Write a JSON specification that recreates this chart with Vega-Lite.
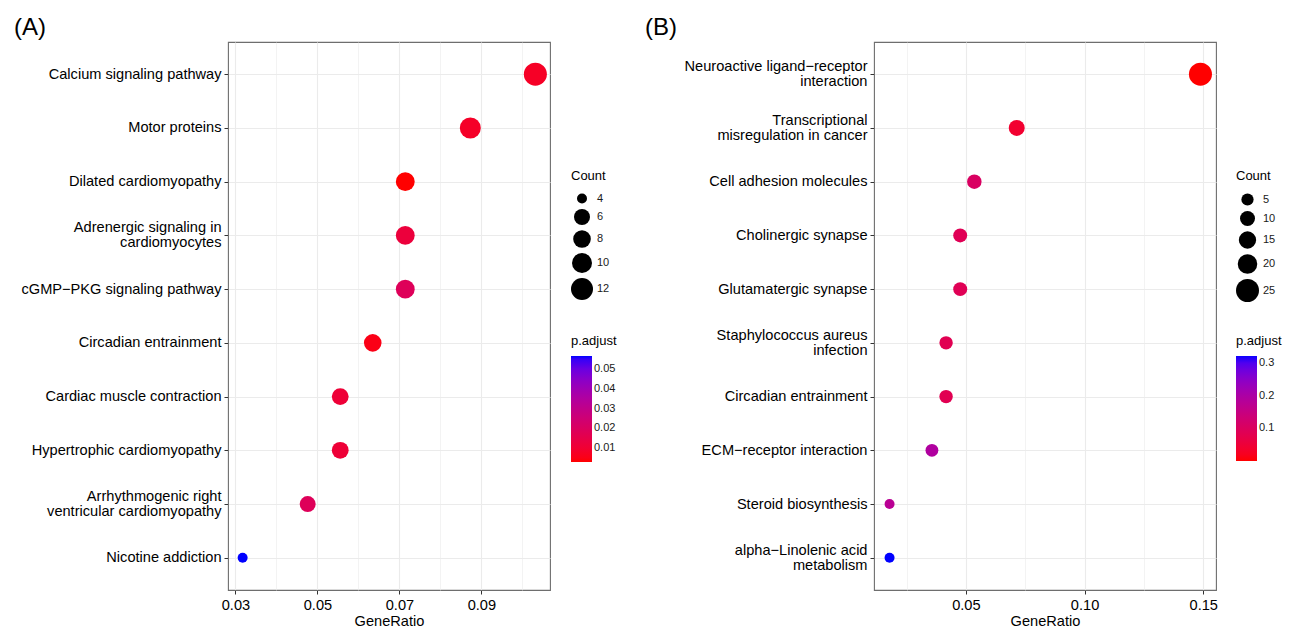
{
  "$schema": "https://vega.github.io/schema/vega-lite/v6.json",
  "background": "white",
  "padding": {"left": 5, "top": 15, "right": 5, "bottom": 5},
  "datasets": {
    "A": [
      {"term": "Calcium signaling pathway", "GeneRatio": 0.10317, "Count": 13, "padj": 0.0075},
      {"term": "Motor proteins", "GeneRatio": 0.08730, "Count": 11, "padj": 0.0080},
      {"term": "Dilated cardiomyopathy", "GeneRatio": 0.07143, "Count": 9, "padj": 0.0029},
      {"term": "Adrenergic signaling in\ncardiomyocytes", "GeneRatio": 0.07143, "Count": 9, "padj": 0.0120},
      {"term": "cGMP−PKG signaling pathway", "GeneRatio": 0.07143, "Count": 9, "padj": 0.0185},
      {"term": "Circadian entrainment", "GeneRatio": 0.06349, "Count": 8, "padj": 0.0050},
      {"term": "Cardiac muscle contraction", "GeneRatio": 0.05556, "Count": 7, "padj": 0.0110},
      {"term": "Hypertrophic cardiomyopathy", "GeneRatio": 0.05556, "Count": 7, "padj": 0.0110},
      {"term": "Arrhythmogenic right\nventricular cardiomyopathy", "GeneRatio": 0.04762, "Count": 6, "padj": 0.0185},
      {"term": "Nicotine addiction", "GeneRatio": 0.03175, "Count": 4, "padj": 0.0566}
    ],
    "B": [
      {"term": "Neuroactive ligand−receptor\ninteraction", "GeneRatio": 0.14881, "Count": 25, "padj": 0.0003},
      {"term": "Transcriptional\nmisregulation in cancer", "GeneRatio": 0.07143, "Count": 12, "padj": 0.039},
      {"term": "Cell adhesion molecules", "GeneRatio": 0.05357, "Count": 9, "padj": 0.106},
      {"term": "Cholinergic synapse", "GeneRatio": 0.04762, "Count": 8, "padj": 0.088},
      {"term": "Glutamatergic synapse", "GeneRatio": 0.04762, "Count": 8, "padj": 0.088},
      {"term": "Staphylococcus aureus\ninfection", "GeneRatio": 0.04167, "Count": 7, "padj": 0.085},
      {"term": "Circadian entrainment", "GeneRatio": 0.04167, "Count": 7, "padj": 0.085},
      {"term": "ECM−receptor interaction", "GeneRatio": 0.03571, "Count": 6, "padj": 0.193},
      {"term": "Steroid biosynthesis", "GeneRatio": 0.01786, "Count": 3, "padj": 0.177},
      {"term": "alpha−Linolenic acid\nmetabolism", "GeneRatio": 0.01786, "Count": 3, "padj": 0.3215}
    ]
  },
  "spacing": 20,
  "resolve": {
    "scale": {"x": "independent", "y": "independent", "color": "independent", "size": "independent"},
    "legend": {"color": "independent", "size": "independent"}
  },
  "hconcat": [
    {
      "width": 322,
      "height": 548,
      "title": {"text": "(A)", "anchor": "start", "frame": "group", "dx": -214, "offset": -17, "baseline": "alphabetic", "fontSize": 24, "fontWeight": "normal", "font": "Liberation Sans", "color": "black"},
      "data": {"name": "A"},
      "mark": {"type": "circle", "opacity": 1},
      "encoding": {
        "y": {
          "field": "term", "type": "nominal", "sort": null,
          "scale": {"type": "point", "padding": 0.6},
          "axis": {"title": null, "grid": true, "labelExpr": "split(datum.label, '\\n')", "minExtent": 222, "maxExtent": 222,
            "labelOffset": {"condition": {"test": "indexof(datum.value, '\\n') >= 0", "value": -7.5}, "value": 0}}
        },
        "x": {
          "field": "GeneRatio", "type": "quantitative",
          "scale": {"domain": [0.02818, 0.10674], "nice": false, "zero": false},
          "axis": {
            "title": "GeneRatio",
            "values": [0.03, 0.04, 0.05, 0.06, 0.07, 0.08, 0.09, 0.10],
            "labelExpr": "round(datum.value*100) % 2 == 1 ? format(datum.value, '.2f') : ''",
            "tickColor": {"condition": {"test": "round(datum.value*100) % 2 == 0", "value": "transparent"}, "value": "#333333"},
            "gridWidth": {"condition": {"test": "round(datum.value*100) % 2 == 0", "value": 0.6}, "value": 1.1}
          }
        },
        "size": {
          "field": "Count", "type": "quantitative",
          "scale": {"type": "linear", "domain": [4, 6, 8, 10, 12, 13], "range": [100, 256, 310, 400, 484, 529]},
          "legend": {"title": "Count", "orient": "none", "legendX": 343, "legendY": 128, "direction": "vertical", "values": [4, 6, 8, 10, 12], "symbolFillColor": "black", "symbolStrokeWidth": 0, "symbolOpacity": 1, "rowPadding": 5, "titlePadding": 10}
        },
        "color": {
          "field": "padj", "type": "quantitative",
          "scale": {"type": "linear", "domain": [0.0029, 0.0566], "range": ["#ff0000", "#0000ff"], "interpolate": "lab", "nice": false, "zero": false},
          "legend": {"title": "p.adjust", "orient": "none", "legendX": 343, "legendY": 293, "direction": "vertical", "values": [0.01, 0.02, 0.03, 0.04, 0.05], "gradientLength": 106, "gradientThickness": 21, "gradientStrokeWidth": 0}
        }
      }
    },
    {
      "width": 342,
      "height": 548,
      "title": {"text": "(B)", "anchor": "start", "frame": "group", "dx": -229, "offset": -17, "baseline": "alphabetic", "fontSize": 24, "fontWeight": "normal", "font": "Liberation Sans", "color": "black"},
      "data": {"name": "B"},
      "mark": {"type": "circle", "opacity": 1},
      "encoding": {
        "y": {
          "field": "term", "type": "nominal", "sort": null,
          "scale": {"type": "point", "padding": 0.6},
          "axis": {"title": null, "grid": true, "labelExpr": "split(datum.label, '\\n')", "minExtent": 235, "maxExtent": 235,
            "labelOffset": {"condition": {"test": "indexof(datum.value, '\\n') >= 0", "value": -7.5}, "value": 0}}
        },
        "x": {
          "field": "GeneRatio", "type": "quantitative",
          "scale": {"domain": [0.01131, 0.15536], "nice": false, "zero": false},
          "axis": {
            "title": "GeneRatio",
            "values": [0.025, 0.05, 0.075, 0.10, 0.125, 0.15],
            "labelExpr": "round(datum.value*1000) % 50 == 0 ? format(datum.value, '.2f') : ''",
            "tickColor": {"condition": {"test": "round(datum.value*1000) % 50 != 0", "value": "transparent"}, "value": "#333333"},
            "gridWidth": {"condition": {"test": "round(datum.value*1000) % 50 != 0", "value": 0.6}, "value": 1.1}
          }
        },
        "size": {
          "field": "Count", "type": "quantitative",
          "scale": {"type": "linear", "domain": [3, 5, 10, 15, 20, 25], "range": [100, 150, 225, 300, 380, 529]},
          "legend": {"title": "Count", "orient": "none", "legendX": 362, "legendY": 128, "direction": "vertical", "values": [5, 10, 15, 20, 25], "symbolFillColor": "black", "symbolStrokeWidth": 0, "symbolOpacity": 1, "rowPadding": 5, "titlePadding": 10}
        },
        "color": {
          "field": "padj", "type": "quantitative",
          "scale": {"type": "linear", "domain": [0.0003, 0.3215], "range": ["#ff0000", "#0000ff"], "interpolate": "lab", "nice": false, "zero": false},
          "legend": {"title": "p.adjust", "orient": "none", "legendX": 362, "legendY": 293, "direction": "vertical", "values": [0.1, 0.2, 0.3], "gradientLength": 105, "gradientThickness": 21, "gradientStrokeWidth": 0}
        }
      }
    }
  ],
  "config": {
    "font": "Liberation Sans",
    "view": {"stroke": "#6e6e6e", "strokeWidth": 1.1},
    "axis": {
      "labelFont": "Liberation Sans",
      "labelFontSize": 14.6,
      "labelColor": "#000000",
      "labelLineHeight": 15,
      "labelLimit": 400,
      "labelPadding": 3,
      "titleFont": "Liberation Sans",
      "titleFontSize": 14.6,
      "titleFontWeight": "normal",
      "titleColor": "#000000",
      "titlePadding": 2,
      "tickColor": "#333333",
      "tickSize": 4,
      "domain": false,
      "gridColor": "#ebebeb",
      "gridWidth": 1.1,
      "labelFlush": false,
      "labelOverlap": false
    },
    "legend": {
      "titleFont": "Liberation Sans",
      "titleFontSize": 13,
      "titleFontWeight": "normal",
      "titleColor": "#000000",
      "labelFont": "Liberation Sans",
      "labelFontSize": 11,
      "labelColor": "#1a1a1a",
      "titlePadding": 8
    }
  }
}
